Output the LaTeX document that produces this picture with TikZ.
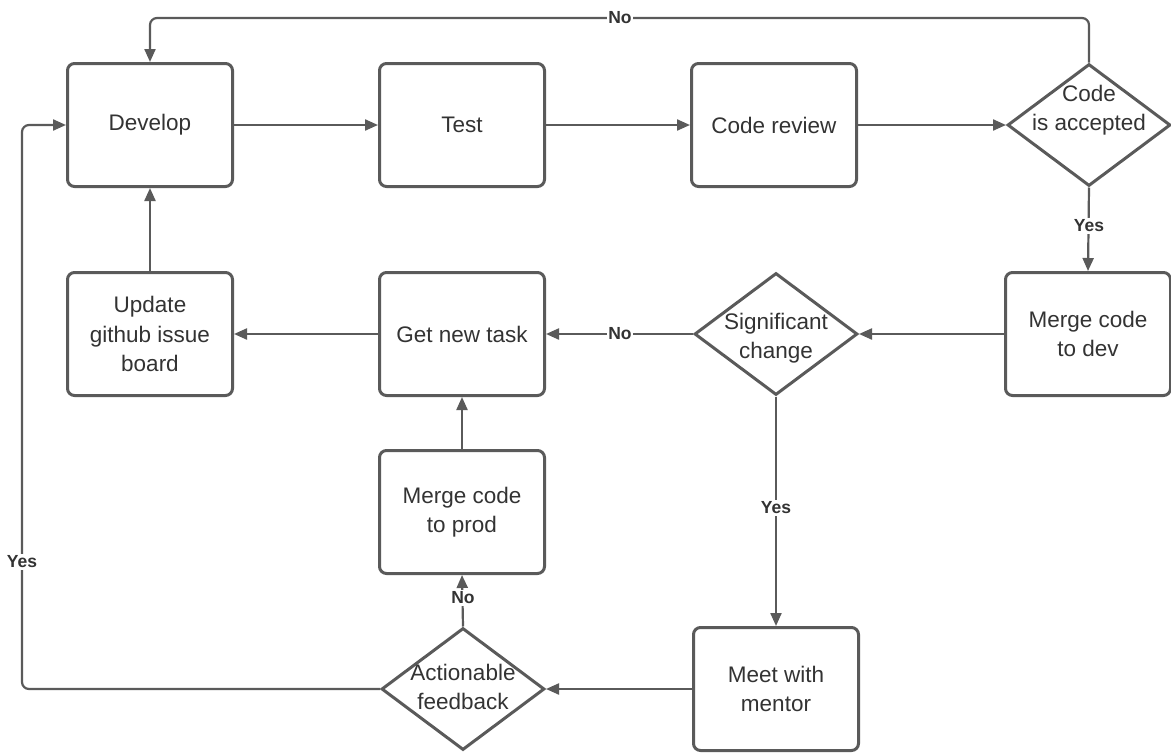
\documentclass[tikz,border=0pt]{standalone}
\usepackage{fontspec}
\setmainfont{Liberation Sans}
\usetikzlibrary{arrows.meta,shapes.geometric}
\definecolor{ln}{HTML}{5A5A5A}
\definecolor{tx}{HTML}{333333}
\begin{document}
\begin{tikzpicture}[x=1pt,y=-1pt,
  box/.style={draw=ln,line width=3pt,rounded corners=7pt,minimum width=165pt,minimum height=123pt,inner sep=0pt,align=center,text=tx,font=\fontsize{22.5}{29.5}\selectfont,fill=white},
  dia/.style={draw=ln,line width=3pt,shape=diamond,minimum width=163pt,minimum height=122pt,inner sep=0pt,fill=white},
  dtxt/.style={align=center,text=tx,font=\fontsize{22.5}{29.5}\selectfont,inner sep=0pt},
  conn/.style={draw=ln,line width=2.2pt,rounded corners=7pt,-{Triangle[length=13pt,width=11pt]}},
  lbl/.style={fill=white,text=tx,font=\bfseries\fontsize{17.5}{20}\selectfont,inner sep=1.5pt}]
\useasboundingbox (0,0) rectangle (1171,753);
% nodes
\node[box] (dev) at (150,125) {Develop};
\node[box] (test) at (462,125) {Test};
\node[box] (cr) at (774,125) {Code review};
\node[dia] (acc) at (1089,125) {};
\node[dtxt] (acct) at (1089,110) {Code\\is accepted};
\node[box] (mdev) at (1088,334) {Merge code\\to dev};
\node[dia] (sig) at (776,334) {};
\node[dtxt] (sigt) at (776,338) {Significant\\change};
\node[box] (task) at (462,334) {Get new task};
\node[box] (upd) at (150,334) {Update\\github issue\\board};
\node[box] (mprod) at (462,512) {Merge code\\to prod};
\node[box] (meet) at (776,689) {Meet with\\mentor};
\node[dia] (act) at (463,689) {};
\node[dtxt] (actt) at (463,687) {Actionable\\feedback};
% connectors
\draw[conn] (dev) -- (test);
\draw[conn] (test) -- (cr);
\draw[conn] (cr) -- (acc.west);
\draw[conn] (acc.north) -- (1089,18) -- (150,18) -- (dev.north);
\node[lbl] (l1) at (620,18) {No};
\draw[conn] (acc.south) -- (mdev.north);
\node[lbl] (l2) at (1089,226) {Yes};
\draw[conn] (mdev.west) -- (sig.east);
\draw[conn] (sig.west) -- (task.east);
\node[lbl] (l3) at (620,334) {No};
\draw[conn] (task) -- (upd);
\draw[conn] (upd) -- (dev);
\draw[conn] (sig.south) -- (meet.north);
\node[lbl] (l4) at (776,508) {Yes};
\draw[conn] (meet.west) -- (act.east);
\draw[conn] (act.north) -- (mprod.south);
\node[lbl] (l5) at (463,598) {No};
\draw[conn] (mprod) -- (task);
\draw[conn] (act.west) -- (22,689) -- (22,125) -- (dev.west);
\node[lbl] (l6) at (22,562) {Yes};
\end{tikzpicture}
\end{document}
